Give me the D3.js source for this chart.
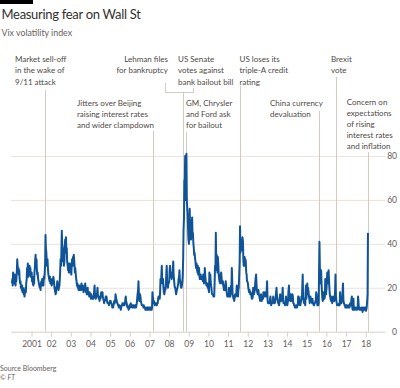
<!DOCTYPE html>
<html>
<head>
<meta charset="utf-8">
<script src="https://cdn.jsdelivr.net/npm/d3@7"></script>
<style>
  body { margin: 0; background: #fff; }
  svg { display: block; font-family: Lato, "Open Sans", sans-serif; }
</style>
</head>
<body>
<svg id="chart" width="400" height="388"></svg>
<script>
// VIX, roughly weekly readings (4 per month)
var vix2000 = [22,24,21,27, 23,25,22,26, 24,21,26,23, 28,33,30,27, 29,26,28,24, 22,23,20,21, 19,21,18,20, 18,17,18,16, 19,20,18,22, 24,29,27,31, 25,28,26,30, 27,29,25,27];
var vix2001 = [27,23,25,22, 21,24,22,27, 29,33,35,30, 33,28,26,27, 24,23,22,21, 20,21,19,22, 23,21,24,22, 23,21,25,24, 27,31,44,38, 36,32,30,33, 28,26,25,24, 23,25,22,24];
var vix2002 = [23,21,22,24, 22,25,24,22, 20,19,18,17, 18,20,21,23, 21,22,19,20, 21,24,28,33, 30,37,46,40, 38,32,35,30, 32,38,42,39, 43,36,38,32, 30,28,31,27, 29,31,27,29];
var vix2003 = [28,26,31,33, 30,34,32,35, 33,30,27,29, 26,24,23,21, 22,20,21,19, 20,21,19,20, 21,19,22,20, 21,19,20,18, 19,21,20,22, 20,18,19,17, 18,20,17,18, 17,16,18,17];
var vix2004 = [16,15,17,16, 16,15,16,15, 16,19,21,17, 16,15,17,16, 18,20,17,16, 15,16,14,15, 15,16,18,16, 17,18,16,15, 14,13,14,14, 15,16,15,16, 14,13,13,13, 13,12,13,14];
var vix2005 = [13,14,13,13, 12,11,12,11, 12,13,14,13, 14,17,16,15, 14,13,13,12, 12,11,12,12, 11,11,10,11, 12,12,13,12, 12,13,12,12, 13,15,16,14, 13,12,11,11, 11,10,11,12];
var vix2006 = [12,11,13,12, 12,12,11,12, 11,11,12,11, 11,12,12,11, 12,13,15,17, 19,23,18,14, 15,17,16,14, 13,12,12,12, 12,11,12,11, 11,11,10,11, 10,10,11,10, 11,10,11,11];
var vix2007 = [11,10,11,11, 10,10,11,18, 16,15,13,14, 13,12,13,13, 13,13,12,13, 13,15,16,15, 16,15,18,24, 22,26,30,24, 22,24,20,18, 17,18,20,19, 22,27,30,23, 21,20,22,22];
var vix2008 = [23,28,30,27, 25,26,24,27, 25,29,32,26, 23,21,20,20, 18,17,18,19, 20,21,22,24, 25,28,24,23, 21,20,20,21, 23,26,33,46, 52,69,66,80, 60,66,81,60, 56,53,47,42];
var vix2009 = [40,45,56,46, 44,42,48,50, 52,44,45,41, 38,35,36,34, 32,30,29,31, 28,27,30,26, 27,29,25,24, 25,26,24,25, 24,25,23,26, 24,22,23,29, 25,23,22,21, 21,22,20,21];
var vix2010 = [19,18,27,24, 26,23,21,20, 18,17,17,17, 16,17,16,22, 30,28,45,32, 35,30,27,34, 30,26,24,23, 22,24,26,27, 24,22,22,23, 21,20,19,21, 19,21,23,21, 18,17,16,17];
var vix2011 = [17,16,20,18, 16,16,18,21, 20,29,24,17, 16,15,15,14, 16,17,17,16, 18,21,19,17, 16,19,20,25, 32,48,36,42, 37,40,41,43, 41,33,30,30, 34,30,33,32, 27,26,23,23];
var vix2012 = [22,20,19,18, 19,18,17,18, 17,16,15,15, 16,20,18,17, 18,19,22,24, 26,22,19,18, 17,18,19,17, 16,15,14,15, 17,15,14,15, 16,15,18,17, 17,18,16,16, 17,16,19,23];
var vix2013 = [14,13,13,13, 13,13,15,16, 14,12,13,13, 13,14,16,14, 13,13,13,14, 16,18,20,17, 15,14,13,13, 12,13,15,17, 16,14,14,15, 17,20,15,13, 13,13,13,12, 14,16,14,13];
var vix2014 = [12,13,14,18, 21,17,15,14, 14,17,15,14, 14,17,16,13, 13,12,12,11, 11,11,12,11, 11,12,12,16, 16,15,13,12, 12,13,14,16, 15,21,26,16, 14,13,13,13, 12,18,21,15];
var vix2015 = [19,22,17,20, 18,16,15,13, 14,16,15,15, 14,13,15,13, 13,12,12,13, 13,14,14,18, 17,14,12,13, 12,13,28,41, 26,27,22,28, 21,18,15,14, 15,18,16,15, 16,24,19,17];
var vix2016 = [20,24,27,23, 22,28,24,20, 17,16,15,14, 14,16,13,14, 15,14,16,14, 15,19,26,17, 14,13,12,12, 12,12,12,13, 12,18,15,13, 13,15,14,17, 22,15,13,13, 12,12,11,12];
var vix2017 = [12,11,12,11, 11,11,12,12, 11,12,13,12, 13,15,16,11, 10,11,15,10, 10,10,11,11, 11,10,10,10, 11,16,14,11, 10,11,10,10, 10,10,11,10, 9,11,10,10, 11,10,10,11];
var vix2018 = [9.5,10,11,13, 17,45];

var yearSeries = [vix2000, vix2001, vix2002, vix2003, vix2004, vix2005, vix2006, vix2007, vix2008,
                  vix2009, vix2010, vix2011, vix2012, vix2013, vix2014, vix2015, vix2016, vix2017, vix2018];

var yearTicks  = d3.range(2001, 2019);
var yearLabels = ["2001","02","03","04","05","06","07","08","09","10","11","12","13","14","15","16","17","18"];
var valueTicks = [0, 20, 40, 60, 80];

// annotations: event date and text lines
var annoDates = ["2001-09-17","2007-02-27","2008-09-15","2008-09-29","2008-11-18","2011-08-05","2015-08-11","2016-06-24","2018-02-05"];
var annoTexts = [
    ["Market sell-off", "in the wake of", "9/11 attack"],
    ["Jitters over Beijing", "raising interest rates", "and wider clampdown"],
    ["Lehman files", "for bankruptcy"],
    ["US Senate", "votes against", "bank bailout bill"],
    ["GM, Chrysler", "and Ford ask", "for bailout"],
    ["US loses its", "triple-A credit", "rating"],
    ["China currency", "devaluation"],
    ["Brexit", "vote"],
    ["Concern on", "expectations", "of rising", "interest rates", "and inflation"]
];

(function () {
    var svg = d3.select("#chart");

    var plotLeft = 11, plotRight = 385, plotTop = 156, plotBottom = 331.7;
    var parse = d3.timeParse("%Y-%m-%d");

    var x = d3.scaleTime()
        .domain([new Date(2000, 0, 1), new Date(2019, 0, 1)])
        .range([11.8, 385.4]);
    var y = d3.scaleLinear().domain([0, 80]).range([plotBottom, plotTop]);

    // flatten into dated points
    var data = [];
    yearSeries.forEach(function (arr, k) {
        arr.forEach(function (v, i) {
            data.push({date: new Date(2000 + k, Math.floor(i / 4), 4 + (i % 4) * 7), v: v});
        });
    });

    // header
    svg.append("rect").attr("x", 0).attr("y", 0).attr("width", 33).attr("height", 4).attr("fill", "#000");
    svg.append("text").attr("x", 1.5).attr("y", 19)
        .attr("font-size", 13).attr("letter-spacing", -0.3).attr("fill", "#33302e").text("Measuring fear on Wall St");
    svg.append("text").attr("x", 1.5).attr("y", 36)
        .attr("font-size", 8.8).attr("fill", "#66605c").text("Vix volatility index");

    // y gridlines + labels
    var yAxis = svg.append("g")
        .attr("transform", "translate(" + plotRight + ",0)")
        .call(d3.axisRight(y).tickValues(valueTicks).tickSize(-(plotRight - plotLeft)).tickPadding(12));
    yAxis.select(".domain").remove();
    yAxis.selectAll(".tick line").attr("stroke", "#ece3da");
    yAxis.selectAll(".tick text")
        .attr("text-anchor", "end").attr("font-size", 8.5).attr("font-family", "Lato")
        .attr("fill", "#66605c");
    yAxis.selectAll(".tick").filter(function (d) { return d === 0; }).select("line").attr("stroke", "#d9d0c6");

    // x axis
    var xAxis = svg.append("g")
        .attr("transform", "translate(0," + plotBottom + ")")
        .call(d3.axisBottom(x)
            .tickValues(yearTicks.map(function (yr) { return new Date(yr, 0, 1); }))
            .tickFormat(function (d, i) { return yearLabels[i]; })
            .tickSize(5).tickPadding(4));
    xAxis.select(".domain").remove();
    xAxis.selectAll(".tick line").attr("stroke", "#d9d0c6");
    xAxis.selectAll(".tick text").attr("font-size", 8.5).attr("font-family", "Lato").attr("fill", "#66605c");

    // annotation lines
    var lineTops = [90, 131, 92, null, 132, 86, 111, 77, 152];
    var annoLines = svg.append("g").attr("stroke", "#d3cbc2").attr("stroke-width", 1).attr("fill", "none");
    annoDates.forEach(function (ds, i) {
        if (lineTops[i] === null) return;
        var xx = Math.round(x(parse(ds))) + 0.5;
        annoLines.append("line").attr("x1", xx).attr("x2", xx).attr("y1", lineTops[i]).attr("y2", plotBottom);
    });
    // elbow joining Lehman and Senate labels
    annoLines.append("path").attr("d", "M165.5,83V92.5H193.5V88");

    // annotation text
    var textX      = [15, 77, 168, 178, 186, 239.5, 270, 331, 346.7];
    var textY      = [62, 105.5, 62, 62, 105.5, 62, 105.5, 62, 105.3];
    var textAnchor = ["start","start","end","start","start","start","start","start","start"];
    var lineGap = 11.4;
    var annoText = svg.append("g").attr("font-size", 8).attr("fill", "#4f4a46");
    annoTexts.forEach(function (lines, i) {
        var t = annoText.append("text").attr("text-anchor", textAnchor[i]);
        lines.forEach(function (s, j) {
            t.append("tspan").attr("x", textX[i]).attr("y", textY[i] + j * (i === 8 ? 11 : lineGap)).text(s);
        });
    });

    // the series
    var line = d3.line()
        .x(function (d) { return x(d.date); })
        .y(function (d) { return y(d.v); });

    svg.append("path")
        .datum(data)
        .attr("fill", "none")
        .attr("stroke", "#0f5499")
        .attr("stroke-width", 2)
        .attr("stroke-linejoin", "round")
        .attr("d", line);

    // footer
    svg.append("text").attr("x", 0).attr("y", 371).attr("font-size", 7).attr("fill", "#66605c").text("Source Bloomberg");
    svg.append("text").attr("x", 0).attr("y", 380).attr("font-size", 7).attr("fill", "#66605c").attr("font-style", "italic").text("\u00a9 FT");
})();
</script>
</body>
</html>
